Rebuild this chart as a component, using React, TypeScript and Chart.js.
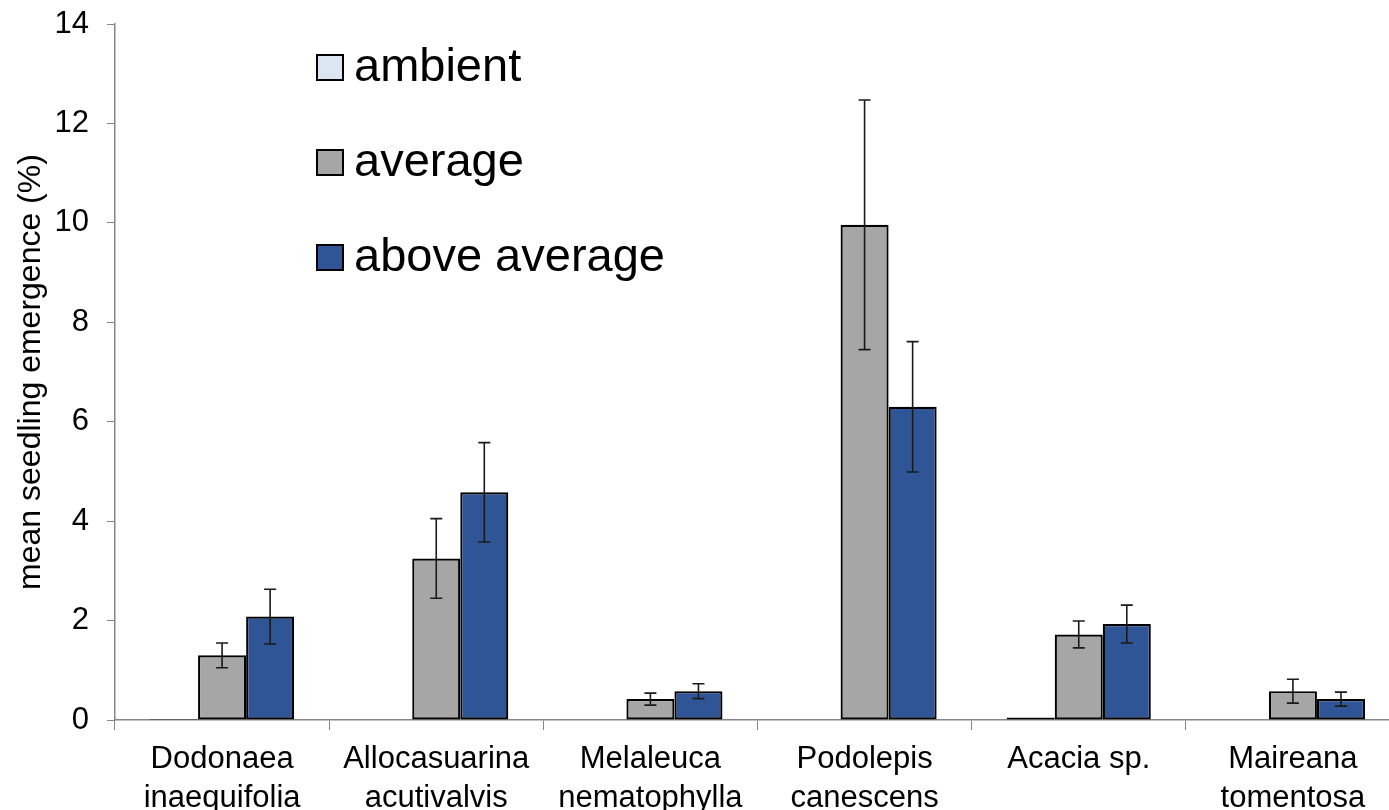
import React, { useEffect, useRef } from "react";
import { Chart, registerables } from "chart.js";

Chart.register(...registerables);

const categories: string[][] = [
  ["Dodonaea", "inaequifolia"],
  ["Allocasuarina", "acutivalvis"],
  ["Melaleuca", "nematophylla"],
  ["Podolepis", "canescens"],
  ["Acacia sp.", ""],
  ["Maireana", "tomentosa"],
];
const seriesNames = ["ambient", "average", "above average"];
const ambient = [0.02, 0, 0, 0, 0.05, 0];
const average = [1.3, 3.25, 0.42, 9.96, 1.72, 0.58];
const aboveAverage = [2.08, 4.58, 0.58, 6.3, 1.93, 0.42];
const ambientErr = [0, 0, 0, 0, 0, 0];
const averageErr = [0.25, 0.8, 0.12, 2.51, 0.27, 0.24];
const aboveAverageErr = [0.55, 1.0, 0.15, 1.31, 0.38, 0.14];
const yTicks = [0, 2, 4, 6, 8, 10, 12, 14];

const colors = ["#DCE6F2", "#A6A6A6", "#2F5597"];
const FONT = "'Liberation Sans', Arial, sans-serif";

const errorBars = {
  id: "errorBars",
  afterDatasetsDraw(chart: any) {
    const errs = [ambientErr, averageErr, aboveAverageErr];
    const ctx = chart.ctx;
    const y = chart.scales.y;
    ctx.save();
    ctx.strokeStyle = "#1a1a1a";
    ctx.lineWidth = 1.6;
    chart.data.datasets.forEach((ds: any, di: number) => {
      const meta = chart.getDatasetMeta(di);
      meta.data.forEach((bar: any, i: number) => {
        const e = errs[di][i];
        if (!e) return;
        const v = ds.data[i];
        const x = bar.x;
        const yt = y.getPixelForValue(v + e);
        const yb = y.getPixelForValue(v - e);
        ctx.beginPath();
        ctx.moveTo(x, yt);
        ctx.lineTo(x, yb);
        ctx.moveTo(x - 6, yt);
        ctx.lineTo(x + 6, yt);
        ctx.moveTo(x - 6, yb);
        ctx.lineTo(x + 6, yb);
        ctx.stroke();
      });
    });
    ctx.restore();
  },
};

const legendPlugin = {
  id: "customLegend",
  afterDraw(chart: any) {
    const ctx = chart.ctx;
    ctx.save();
    const x0 = 317;
    const yc = [67, 162, 257];
    seriesNames.forEach((name, i) => {
      ctx.fillStyle = colors[i];
      ctx.fillRect(x0, yc[i] - 12, 26, 25);
      ctx.strokeStyle = "#000";
      ctx.lineWidth = 2;
      ctx.strokeRect(x0, yc[i] - 12, 26, 25);
      ctx.fillStyle = "#000";
      ctx.font = `47px ${FONT}`;
      ctx.textBaseline = "middle";
      ctx.textAlign = "left";
      ctx.fillText(name, x0 + 37, yc[i] + 1);
    });
    ctx.restore();
  },
};

export default function App() {
  const ref = useRef<HTMLCanvasElement>(null);
  useEffect(() => {
    if (!ref.current) return;
    const chart = new Chart(ref.current, {
      type: "bar",
      data: {
        labels: categories,
        datasets: [ambient, average, aboveAverage].map((d, i) => ({
          label: seriesNames[i],
          data: d,
          backgroundColor: colors[i],
          borderColor: "#000",
          borderWidth: 2.2,
          borderSkipped: false,
          barPercentage: 1,
          categoryPercentage: 0.673,
        })),
      },
      options: {
        animation: false,
        responsive: false,
        devicePixelRatio: 1,
        layout: { padding: { top: 24, left: 0, right: 0, bottom: 0 } },
        plugins: { legend: { display: false }, tooltip: { enabled: false } },
        scales: {
          x: {
            grid: {
              display: true,
              drawOnChartArea: false,
              drawTicks: true,
              tickLength: 10,
              color: "#868686",
              offset: true,
            },
            border: { display: true, color: "#868686", width: 1.5 },
            ticks: {
              color: "#000",
              font: { family: FONT, size: 31, lineHeight: 1.25 },
              padding: 10,
              maxRotation: 0,
              autoSkip: false,
            },
            afterFit(scale: any) {
              scale.height = 90;
              scale.paddingLeft = 0;
              scale.paddingRight = 0;
            },
          },
          y: {
            min: 0,
            max: 14,
            afterBuildTicks(scale: any) {
              scale.ticks = yTicks.map((v) => ({ value: v }));
            },
            grid: {
              display: true,
              drawOnChartArea: false,
              drawTicks: true,
              tickLength: 8,
              color: "#868686",
            },
            border: { display: true, color: "#868686", width: 1.5 },
            ticks: {
              color: "#000",
              font: { family: FONT, size: 31 },
              padding: 18,
            },
            title: {
              display: true,
              text: "mean seedling emergence (%)",
              color: "#000",
              font: { family: FONT, size: 32 },
              padding: { top: 12, bottom: 0 },
            },
            afterFit(scale: any) {
              scale.width = 115;
              scale.paddingTop = 0;
              scale.paddingBottom = 0;
            },
          },
        },
      },
      plugins: [errorBars, legendPlugin],
    });
    return () => chart.destroy();
  }, []);
  return (
    <div
      style={{
        position: "absolute",
        left: 0,
        top: 0,
        width: 1389,
        height: 810,
        overflow: "hidden",
        background: "#fff",
      }}
    >
      <canvas ref={ref} width={1400} height={810} style={{ width: 1400, height: 810, display: "block" }} />
    </div>
  );
}
